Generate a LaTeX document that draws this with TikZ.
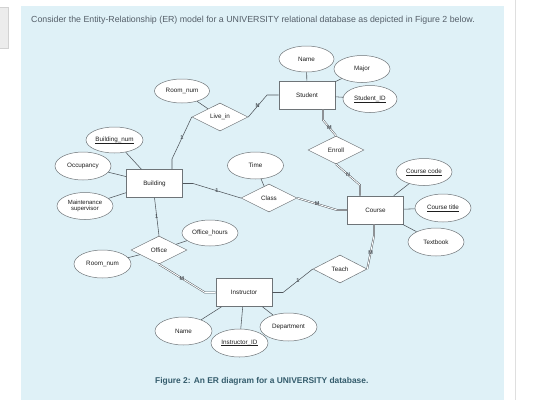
\documentclass[tikz,border=0pt]{standalone}
\usepackage{fontspec}
\setmainfont{Liberation Sans}
\usetikzlibrary{shapes.geometric}
\definecolor{panel}{RGB}{223,241,247}
\definecolor{ln}{RGB}{80,86,92}
\definecolor{bd}{RGB}{110,116,120}
\definecolor{txt}{RGB}{30,30,30}
\definecolor{toptxt}{RGB}{85,95,105}
\definecolor{captxt}{RGB}{52,92,108}
\newcommand{\ulattr}[1]{\leavevmode\vtop{\hbox{\raisebox{0pt}[\height][0pt]{#1}}\kern1pt\hrule height 0.4pt}}
\begin{document}
\begin{tikzpicture}[x=1pt,y=-1pt,
  nfont/.style={font=\fontsize{6.3}{7.3}\selectfont, text=txt},
  ent/.style={rectangle, draw=bd, line width=0.6pt, fill=white, minimum width=56pt, minimum height=28pt, inner sep=0pt, nfont},
  attr/.style={ellipse, draw=bd, line width=0.5pt, fill=white, minimum width=56pt, minimum height=27pt, inner sep=0pt, nfont},
  rel/.style={diamond, draw=bd, line width=0.5pt, fill=white, minimum width=56pt, minimum height=28pt, aspect=2, inner sep=0pt, nfont},
  con/.style={draw=ln, line width=0.55pt},
  dbl/.style={draw=ln, line width=0.45pt, double=white, double distance=0.9pt},
  card/.style={font=\bfseries\fontsize{5.5}{6}\selectfont, text=ln, inner sep=0pt}
]
\useasboundingbox (0,0) rectangle (539,400);
% background
\fill[white] (0,0) rectangle (539,400);
\fill[panel] (21,6) rectangle (504,400);
\filldraw[fill=gray!15, draw=gray!35] (-1,7) rectangle (8,48);
\draw[gray!25, line width=0.6pt] (515,0) -- (515,400);

% texts
\node[anchor=west, inner sep=0pt, font=\fontsize{8.8}{10}\selectfont, text=toptxt] (toptext) at (31,20)
  {Consider the Entity-Relationship (ER) model for a UNIVERSITY relational database as depicted in Figure 2 below.};
\node[anchor=west, inner sep=0pt, font=\bfseries\fontsize{8.4}{10}\selectfont, text=captxt] (caption) at (155,381)
  {Figure 2: An ER diagram for a UNIVERSITY database.};

% entities
\node[ent] (student) at (307,95) {Student};
\node[ent] (course) at (375.5,210) {Course};
\node[ent] (building) at (154.5,183.5) {Building};
\node[ent] (instructor) at (244,292.5) {Instructor};

% relationships
\node[rel] (livein) at (220,117) {Live\_in};
\node[rel] (enroll) at (336,150) {Enroll};
\node[rel] (class) at (269,198) {Class};
\node[rel] (office) at (159,250) {Office};
\node[rel, minimum width=54pt] (teach) at (340,269) {Teach};

% attributes
\node[attr, minimum width=55pt, minimum height=26pt] (sname) at (306.5,59) {Name};
\node[attr] (major) at (362,69) {Major};
\node[attr, minimum width=54pt] (sid) at (370,99) {\ulattr{Student\_ID}};
\node[attr, minimum width=55pt, minimum height=24pt] (room1) at (182,91) {Room\_num};
\node[attr] (ccode) at (424,172) {\ulattr{Course code}};
\node[attr, minimum height=28pt] (ctitle) at (443,208) {\ulattr{Course title}};
\node[attr, minimum height=28pt] (textbook) at (436,242) {Textbook};
\node[attr] (time) at (255.5,165.5) {Time};
\node[attr, minimum width=57pt, minimum height=26pt] (bnum) at (114.5,140) {\ulattr{Building\_num}};
\node[attr, minimum height=28pt] (occ) at (83,166) {Occupancy};
\node[attr, align=center, font=\fontsize{6}{6.8}\selectfont] (maint) at (85,206) {Maintenance\\supervisor};
\node[attr, minimum height=26pt] (ohours) at (210,233) {Office\_hours};
\node[attr, minimum width=57pt, minimum height=28pt] (room2) at (102.5,264) {Room\_num};
\node[attr, minimum width=57pt, minimum height=28pt] (iname) at (183.5,331) {Name};
\node[attr, minimum width=57pt, minimum height=28pt] (iid) at (239.5,343) {\ulattr{Instructor\_ID}};
\node[attr, minimum width=57pt, minimum height=28pt] (dept) at (288.5,327) {Department};

% attribute links
\draw[con] (sname) -- (student);
\draw[con] (major) -- (student);
\draw[con] (sid) -- (student);
\draw[con] (room1) -- (livein);
\draw[con] (ccode) -- (course);
\draw[con] (ctitle) -- (course);
\draw[con] (textbook) -- (course);
\draw[con] (time) -- (class);
\draw[con] (bnum) -- (building);
\draw[con] (occ) -- (building);
\draw[con] (maint) -- (building);
\draw[con] (ohours) -- (office);
\draw[con] (room2) -- (office);
\draw[con] (iname) -- (instructor);
\draw[con] (iid) -- (instructor);
\draw[con] (dept) -- (instructor);

% relationship links
\draw[con] (livein.east) -- node[card]{N} (267,95) -- (student.west);
\draw[con] (livein.west) -- node[card]{1} (172,159) -- ([xshift=17.5pt]building.north);
\draw[con] (building.east) -- (193,183.5) -- node[card]{1} (class.west);
\draw[dbl] (class.east) -- node[card]{M} (337,210) -- (course.west);
\draw[dbl] ([xshift=16pt]student.south) -- (323,120) -- node[card]{M} (enroll.north);
\draw[dbl] (enroll.south) -- node[card]{N} (360,185) -- ([xshift=-15.5pt]course.north);
\draw[dbl] ([xshift=-1.5pt]course.south) -- (374,236) -- node[card]{M} (teach.east);
\draw[con] (teach.west) -- node[card]{1} (283,292.5) -- (instructor.east);
\draw[dbl] (office.south) -- node[card]{M} (205,292.5) -- (instructor.west);
\draw[con] (building.south) -- node[card]{1} (office.north);
\end{tikzpicture}
\end{document}
